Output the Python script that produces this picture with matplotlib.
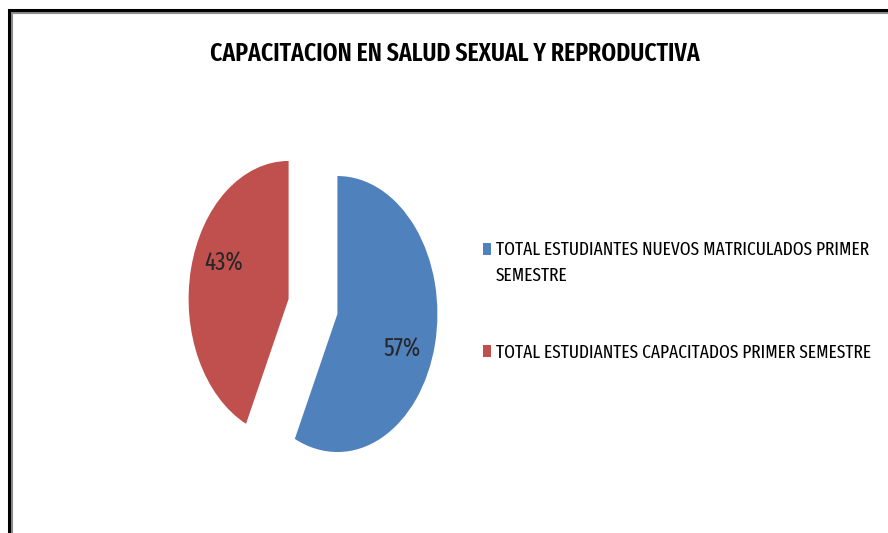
#Imports y config
import numpy as np
import matplotlib
matplotlib.use("Agg")
import matplotlib.pyplot as plt
from matplotlib.patches import Rectangle

FUENTE = ["Fira Sans Extra Condensed", "DejaVu Sans"]
plt.rcParams["font.family"] = FUENTE

# Datos del grafico
titulo = "CAPACITACION EN SALUD SEXUAL Y REPRODUCTIVA"
categorias = [
    "TOTAL ESTUDIANTES NUEVOS MATRICULADOS PRIMER\nSEMESTRE",
    "TOTAL ESTUDIANTES CAPACITADOS PRIMER SEMESTRE",
]
porcentajes = [57, 43]
colores = ["#4F81BD", "#C0504D"]
separacion = [0.25, 0.25]

W, H = 888, 533
fig = plt.figure(figsize=(W/100, H/100), dpi=100)

# marco (recortado a la derecha y abajo, como en la imagen)
fig.add_artist(Rectangle((11.5/W, -0.2), 1.2, 1.2 - 12.5/H,
                         transform=fig.transFigure, fill=False,
                         edgecolor="#8c8c8c", linewidth=1.5, clip_on=False))
fig.add_artist(Rectangle((9/W, -0.2), 1.2, 1.2 - 10/H,
                         transform=fig.transFigure, fill=False,
                         edgecolor="black", linewidth=2.2, clip_on=False))

# pie (elipse, como en excel)
ax = fig.add_axes([188/W, 54/H, 250/W, 345/H])
wedges, textos, autotextos = ax.pie(
    porcentajes, colors=colores, startangle=90, counterclock=False,
    explode=separacion, autopct="%1.0f%%", pctdistance=0.7,
    wedgeprops=dict(linewidth=0),
    textprops=dict(fontsize=18, color="#262626"))
ax.set_aspect("auto")
ax.set_xlim(-1.25, 1.25)
ax.set_ylim(-1.25, 1.25)

# etiquetas un poco giradas (best fit de excel)
for w, t in zip(wedges, autotextos):
    ang = np.deg2rad((w.theta1 + w.theta2) / 2 - 9)
    cx, cy = w.center
    t.set_position((cx + 0.7*np.cos(ang), cy + 0.7*np.sin(ang)))

fig.text(455/W, 1 - 54/H, titulo, ha="center", va="center",
         fontsize=18.5, fontweight="semibold", color="black")

# leyenda
y_cuadro = [249, 351]
y_texto = [241, 344]
for cat, col, yc, yt in zip(categorias, colores, y_cuadro, y_texto):
    fig.add_artist(Rectangle((483/W, 1 - (yc + 6)/H), 8/W, 12/H,
                             transform=fig.transFigure, facecolor=col,
                             edgecolor="none"))
    fig.text(496/W, 1 - yt/H, cat, ha="left", va="top",
             fontsize=13.6, color="black", linespacing=1.55)

plt.savefig("out.png", dpi=100)
plt.close()
